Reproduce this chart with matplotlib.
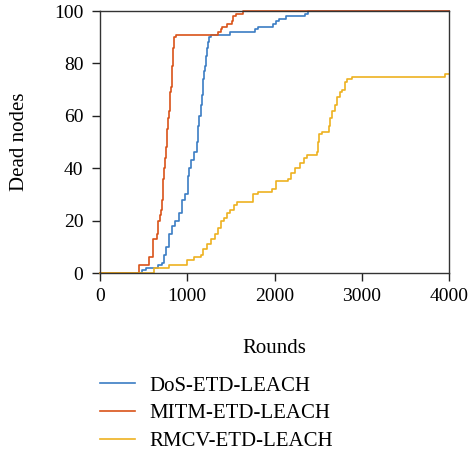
import numpy as np
import matplotlib
matplotlib.use('Agg')
from matplotlib import pyplot as plt

plt.rcParams['font.family'] = ['Liberation Serif', 'DejaVu Serif']

# dead nodes vs rounds
dos_rounds = [0, 478, 527, 669, 707, 734, 757, 795, 821, 860, 909, 936, 974, 1004, 1020, 1042,
              1081, 1108, 1118, 1127, 1140, 1154, 1164, 1175, 1184, 1194, 1204, 1213, 1223,
              1238, 1253, 1268, 1490, 1776, 1814, 1979, 2017, 2055, 2131, 2349, 2388, 4000]
dos_dead = [0, 1, 2, 3, 4, 7, 10, 15, 18, 20, 23, 28, 30, 37, 40, 43,
            46, 50, 53, 56, 60, 64, 68, 72, 74, 77, 79, 83, 86,
            88, 90, 91, 92, 93, 94, 95, 96, 97, 98, 99, 100, 100]

mitm_rounds = [0, 450, 565, 611, 650, 669, 682, 696, 708, 718, 726, 736, 745, 755, 764, 772,
               782, 791, 800, 808, 814, 820, 826, 832, 838, 848, 871, 1356, 1387, 1402, 1456,
               1509, 1528, 1559, 1643, 4000]
mitm_dead = [0, 3, 6, 13, 15, 20, 22, 24, 28, 32, 36, 40, 44, 48, 51, 55,
             59, 62, 66, 69, 71, 75, 79, 83, 86, 90, 91, 92, 93, 94, 95,
             96, 98, 99, 100, 100]

rmcv_rounds = [0, 619, 795, 997, 1077, 1154, 1184, 1223, 1268, 1318, 1348, 1387, 1425, 1459,
               1490, 1536, 1566, 1757, 1814, 1967, 2017, 2158, 2185, 2235, 2292, 2342, 2376,
               2483, 2497, 2510, 2548, 2628, 2641, 2655, 2693, 2720, 2751, 2778, 2808, 2835,
               2885, 3954, 4000]
rmcv_dead = [0, 2, 3, 5, 6, 7, 9, 11, 13, 15, 17, 20, 21, 23, 24, 26, 27, 30, 31, 32, 35, 36,
             38, 40, 42, 44, 45, 46, 50, 53, 54, 56, 59, 62, 64, 67, 69, 70, 73, 74, 75, 76, 76]

labels = ['DoS-ETD-LEACH', 'MITM-ETD-LEACH', 'RMCV-ETD-LEACH']
colors = ['#3B7DC4', '#D95319', '#EDB120']

fig = plt.figure(figsize=(4.69, 4.55), dpi=100)
ax = fig.add_axes([100 / 469, 1 - 273 / 455, 349 / 469, 262 / 455])

for x, y, lab, c in zip([dos_rounds, mitm_rounds, rmcv_rounds],
                        [dos_dead, mitm_dead, rmcv_dead], labels, colors):
    ax.plot(x, y, drawstyle='steps-post', color=c, lw=1.2, label=lab, clip_on=False)

ax.set_xlim(0, 4000)
ax.set_ylim(0, 100)
ax.set_xticks([0, 1000, 2000, 3000, 4000])
ax.set_yticks([0, 20, 40, 60, 80, 100])
ax.tick_params(direction='out', length=6, width=1, labelsize=14, color='#222222')
ax.tick_params(axis='x', pad=5)
ax.tick_params(axis='y', pad=6)
for s in ax.spines.values():
    s.set_linewidth(1)
    s.set_color('#333333')

ax.set_xlabel('Rounds', fontsize=15, labelpad=24)
ax.set_ylabel('Dead nodes', fontsize=15, labelpad=18)

fig.legend(loc='upper left', bbox_to_anchor=(100 / 469, 1 - 376 / 455), frameon=False,
           fontsize=15, handlelength=1.7, handletextpad=0.67, labelspacing=0.4,
           borderpad=0, borderaxespad=0)

fig.savefig('out.png', dpi=100)
